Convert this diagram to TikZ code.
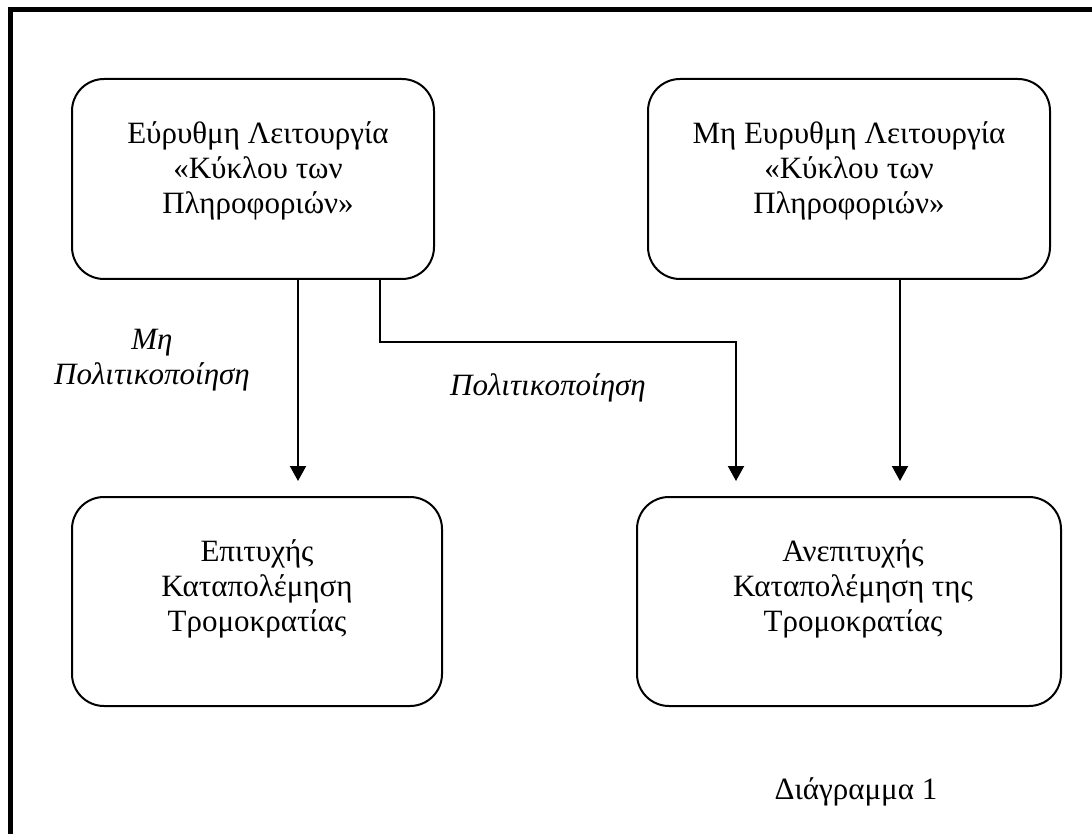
\documentclass[tikz,border=0pt]{standalone}
\usepackage{fontspec}
\setmainfont{Liberation Serif}
\usetikzlibrary{arrows.meta, positioning}

\tikzset{
  box/.style={draw, line width=2pt, rounded corners=32pt, inner sep=0pt},
  boxtext/.style={align=center, font=\fontsize{31}{35}\selectfont},
  pathlabel/.style={align=center, font=\fontsize{31}{35}\selectfont\itshape},
  arr/.style={line width=2pt, -{Triangle[width=16pt,length=15pt]}, shorten >=15pt}
}

\begin{document}
\begin{tikzpicture}[x=1pt, y=-1pt]
\useasboundingbox (0,0) rectangle (1092,834);
%frame
\draw[line width=5pt] (10.5,9.5) rectangle (1120,860);
%boxes (top)
\node[box, minimum width=362pt, minimum height=200pt] (tl) at (253,179) {};
\node[box, minimum width=402pt, minimum height=200pt] (tr) at (849,179) {};
%boxes (bottom)
\node[box, minimum width=370pt, minimum height=209pt] (bl) at (257,601.5) {};
\node[box, minimum width=424pt, minimum height=209pt] (br) at (849,601.5) {};
%texts
\node[boxtext] (tltext) at ([xshift=5pt, yshift=8pt]tl.center) {Εύρυθμη Λειτουργία\\«Κύκλου των\\Πληροφοριών»};
\node[boxtext] (trtext) at ([yshift=8pt]tr.center) {Μη Ευρυθμη Λειτουργία\\«Κύκλου των\\Πληροφοριών»};
\node[boxtext] (bltext) at ([yshift=13pt]bl.center) {Επιτυχής\\Καταπολέμηση\\Τρομοκρατίας};
\node[boxtext] (brtext) at ([xshift=4pt, yshift=13pt]br.center) {Ανεπιτυχής\\Καταπολέμηση της\\Τρομοκρατίας};
%arrows
\draw[arr] ([xshift=45pt]tl.south) -- ([xshift=41pt]bl.north);
\draw[arr] ([xshift=127pt]tl.south) -- ++(0,62) -| ([xshift=-113pt]br.north);
\draw[arr] ([xshift=51pt]tr.south) -- ([xshift=51pt]br.north);
%labels
\node[pathlabel] (nopol) at (152,360) {Μη\\Πολιτικοποίηση};
\node[pathlabel] (pol) at (548,388) {Πολιτικοποίηση};
\node[boxtext] (caption) at (856,792) {Διάγραμμα 1};
\end{tikzpicture}
\end{document}
